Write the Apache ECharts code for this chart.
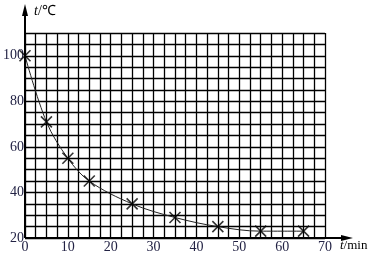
<!DOCTYPE html>
<html><head><meta charset="utf-8">
<script src="https://cdn.jsdelivr.net/npm/echarts@6/dist/echarts.min.js"></script>
<style>html,body{margin:0;padding:0;background:#fff}#c{width:370px;height:254px}</style>
</head><body><div id="c"></div>
<script>
var times = [0, 5, 10, 15, 25, 35, 45, 55, 65];
var temps = [100, 71, 55, 45, 35, 29, 25, 23, 23];
var xTickLabels = [0, 10, 20, 30, 40, 50, 60, 70];
var yTickLabels = [20, 40, 60, 80, 100];

var pts = times.map(function (t, i) { return [t, temps[i]]; });
var chart = echarts.init(document.getElementById('c'), null, {renderer: 'canvas'});
var font = 'Liberation Serif';
chart.setOption({
  animation: false,
  grid: {left: 23, top: 33, right: 45, bottom: 14, containLabel: false},
  xAxis: {
    type: 'value', min: 0, max: 70, interval: 2.5,
    axisLine: {show: false},
    axisTick: {show: false},
    splitLine: {show: true, lineStyle: {color: '#000', width: 1.3}},
    axisLabel: {
      margin: 2, color: '#222244', fontFamily: font, fontSize: 14,
      formatter: function (v) { return xTickLabels.indexOf(v) >= 0 ? String(v) : ''; }
    }
  },
  yAxis: {
    type: 'value', min: 20, max: 110, interval: 5,
    axisLine: {show: false},
    axisTick: {show: false},
    splitLine: {show: true, lineStyle: {color: '#000', width: 1.3}},
    axisLabel: {
      margin: 1, color: '#222244', fontFamily: font, fontSize: 14,
      formatter: function (v) { return yTickLabels.indexOf(v) >= 0 ? String(v) : ''; }
    }
  },
  series: [
    {type: 'line', data: pts, smooth: 0.35, symbol: 'none',
     lineStyle: {color: '#222', width: 1}, z: 3},
    {type: 'scatter', data: pts, symbol: 'path://M0,0L10,10M10,0L0,10', symbolSize: 11,
     itemStyle: {color: 'rgba(0,0,0,0)', borderColor: '#000', borderWidth: 1.6}, z: 4}
  ]
});
var o = chart.convertToPixel({gridIndex: 0}, [0, 20]);
var xEnd = chart.convertToPixel({gridIndex: 0}, [70, 20]);
chart.setOption({
  graphic: [
    {type: 'line', shape: {x1: o[0], y1: o[1], x2: o[0], y2: 10}, style: {stroke: '#000', lineWidth: 2}, z: 10},
    {type: 'polygon', shape: {points: [[o[0], 4], [o[0] - 3, 16], [o[0] + 3, 16]]}, style: {fill: '#000'}, z: 10},
    {type: 'line', shape: {x1: o[0], y1: o[1], x2: xEnd[0] + 20, y2: o[1]}, style: {stroke: '#000', lineWidth: 2}, z: 10},
    {type: 'polygon', shape: {points: [[xEnd[0] + 28, o[1]], [xEnd[0] + 16, o[1] - 3], [xEnd[0] + 16, o[1] + 3]]}, style: {fill: '#000'}, z: 10},
    {type: 'text', left: o[0] + 9, top: 4,
     style: {text: '{i|t}/℃', rich: {i: {fontStyle: 'italic', fontFamily: font, fontSize: 14, fill: '#000'}},
             fontFamily: font, fontSize: 14, fill: '#000'}, z: 10},
    {type: 'text', left: xEnd[0] + 15, top: o[1] + 1,
     style: {text: '{i|t}/min', rich: {i: {fontStyle: 'italic', fontFamily: font, fontSize: 13, fill: '#000'}},
             fontFamily: font, fontSize: 13, fill: '#000'}, z: 10}
  ]
});
</script></body></html>
